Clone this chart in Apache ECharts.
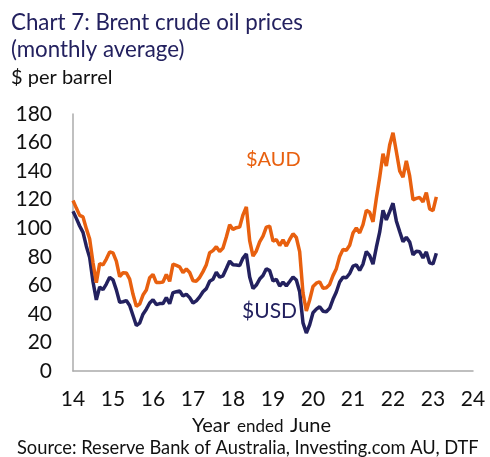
<!DOCTYPE html>
<html>
<head>
<meta charset="utf-8">
<script src="https://cdn.jsdelivr.net/npm/echarts@6/dist/echarts.min.js"></script>
<style>
html,body{margin:0;padding:0;background:#fff;}
#c{width:490px;height:457px;}
</style>
</head>
<body>
<div id="c"></div>
<script>
// Monthly averages, June 2014 to July 2023 (US$ and A$ per barrel)
const usd = [
111.9, 106.9, 101.6, 97.1, 87.4, 79.4, 62.5,
49.8, 58.8, 57.0, 60.9, 65.6, 63.8, 56.8, 48.2, 48.5, 49.3, 45.9, 38.9,
31.9, 33.5, 39.8, 43.3, 47.6, 49.9, 46.5, 47.2, 47.2, 51.4, 47.1, 54.9,
55.5, 56.0, 52.5, 53.8, 51.4, 47.6, 49.1, 51.9, 55.5, 57.7, 62.9, 64.2,
69.1, 65.7, 66.7, 71.8, 77.0, 74.4, 74.3, 73.8, 79.1, 82.0, 65.9, 57.7,
60.2, 64.4, 66.9, 71.6, 70.3, 63.0, 64.2, 59.5, 62.3, 59.6, 62.7, 65.9,
63.7, 55.5, 33.7, 26.6, 32.4, 40.8, 43.3, 45.0, 41.9, 41.5, 43.9, 50.2,
55.3, 62.3, 65.7, 65.3, 68.3, 73.4, 74.3, 70.5, 74.9, 83.7, 80.8, 74.8,
86.5, 97.2, 112.5, 105.8, 111.6, 117.5, 105.1, 97.7, 90.6, 93.6, 90.4, 81.3,
83.9, 83.5, 79.2, 83.4, 75.7, 75.0, 82.5
];
const aud = [
119.4, 114.1, 109.0, 107.9, 99.7, 92.4, 75.8,
61.9, 75.3, 74.3, 78.4, 83.4, 82.7, 77.0, 66.1, 68.8, 68.7, 64.4, 53.7,
45.4, 46.9, 53.2, 56.7, 65.3, 67.6, 61.9, 61.9, 62.3, 67.6, 62.8, 74.9,
74.0, 73.0, 68.9, 71.4, 69.0, 63.2, 62.9, 65.5, 69.6, 74.5, 82.8, 84.3,
87.1, 83.7, 86.1, 93.9, 102.4, 99.2, 100.4, 100.8, 109.4, 115.0, 91.3, 80.5,
84.1, 90.4, 94.5, 100.8, 101.4, 90.9, 92.1, 87.9, 91.9, 87.5, 92.1, 96.1,
93.5, 83.6, 54.6, 42.0, 49.7, 59.2, 61.5, 62.5, 58.0, 58.3, 60.6, 66.8,
71.7, 80.2, 85.1, 84.6, 88.1, 96.6, 100.1, 96.7, 102.5, 112.5, 111.1, 104.5,
120.8, 135.6, 152.2, 143.6, 158.3, 166.9, 153.7, 140.2, 135.8, 147.2, 136.6, 119.9,
120.9, 121.5, 118.4, 124.9, 113.5, 112.3, 122.0
];
const yearTicks = ['14','15','16','17','18','19','20','21','22','23','24'];
const yTicks = [0, 20, 40, 60, 80, 100, 120, 140, 160, 180];

// month categories: June 2014 .. June 2024
const months = [];
for (let i = 0; i <= 120; i++) {
  const m = (5 + i) % 12, y = 2014 + Math.floor((5 + i) / 12);
  months.push(y + '-' + String(m + 1).padStart(2, '0'));
}

const NAVY = '#23215f';
const ORANGE = '#e8600f';
const FONT = 'Lato';

const chart = echarts.init(document.getElementById('c'), null, {renderer: 'canvas'});
chart.setOption({
  animation: false,
  backgroundColor: '#fff',
  textStyle: {fontFamily: FONT},
  grid: {left: 73, right: 17, top: 114, bottom: 86, containLabel: false},
  xAxis: {
    type: 'category',
    data: months,
    boundaryGap: false,
    axisLine: {lineStyle: {color: '#ababab', width: 1.5}},
    axisTick: {show: false},
    splitLine: {show: false},
    axisLabel: {
      interval: 0,
      margin: 18,
      color: '#111',
      fontSize: 21,
      fontFamily: FONT,
      formatter: function (v, idx) { return idx % 12 === 0 ? yearTicks[idx / 12] : ''; }
    }
  },
  yAxis: {
    type: 'value',
    min: yTicks[0],
    max: yTicks[yTicks.length - 1],
    interval: 20,
    axisLine: {show: true, lineStyle: {color: '#ababab', width: 1.5}},
    axisTick: {show: false},
    splitLine: {show: false},
    axisLabel: {margin: 21, color: '#111', fontSize: 21, fontFamily: FONT}
  },
  series: [
    {name: '$USD', type: 'line', data: usd, showSymbol: false, lineStyle: {color: NAVY, width: 3.5}, z: 2},
    {name: '$AUD', type: 'line', data: aud, showSymbol: false, lineStyle: {color: ORANGE, width: 3.5}, z: 3}
  ],
  graphic: [
    {type: 'text', left: 11, top: 12, style: {text: 'Chart 7: Brent crude oil prices', font: '22.3px Lato', fill: NAVY}},
    {type: 'text', left: 11, top: 39, style: {text: '(monthly average)', font: '22.3px Lato', fill: NAVY}},
    {type: 'text', left: 11, top: 68, style: {text: '$ per barrel', font: '20px Lato', fill: '#111'}},
    {type: 'text', left: 246, top: 150, style: {text: '$AUD', font: '20px Lato', fill: ORANGE}},
    {type: 'text', left: 242, top: 301, style: {text: '$USD', font: '21px Lato', fill: NAVY}},
    {type: 'text', left: 192, top: 416, style: {text: 'Year', font: '20px Lato', fill: '#111'}},
    {type: 'text', left: 237, top: 418, style: {text: 'ended', font: '17px Lato', fill: '#111'}},
    {type: 'text', left: 290, top: 416, style: {text: 'June', font: '20px Lato', fill: '#111'}},
    {type: 'text', left: 17, top: 439, style: {text: 'Source: Reserve Bank of Australia, Investing.com AU, DTF', font: '18.3px Lato', fill: '#111'}}
  ]
});
</script>
</body>
</html>
